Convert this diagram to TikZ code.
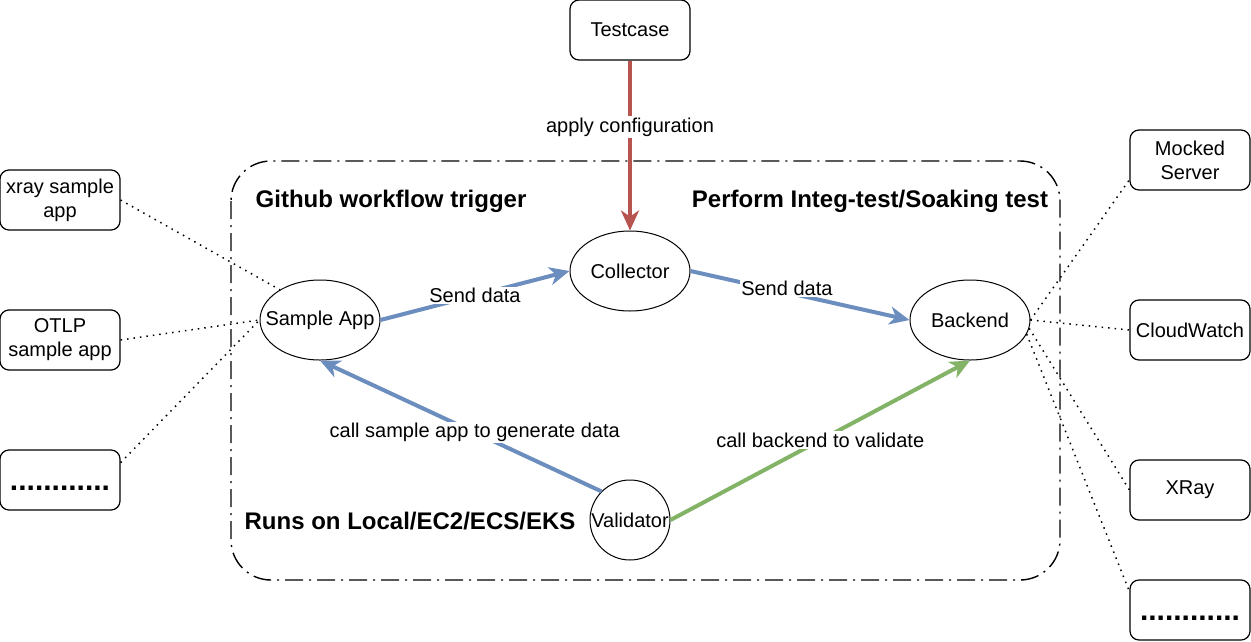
\documentclass[tikz,border=0pt]{standalone}
\usepackage{fontspec}
\setmainfont{Liberation Sans}
\usetikzlibrary{arrows.meta, shapes.geometric}
\definecolor{tcblue}{HTML}{6C8EBF}
\definecolor{tcred}{HTML}{B85450}
\definecolor{tcgreen}{HTML}{82B366}

\begin{document}
\begin{tikzpicture}[x=1pt, y=-1pt,
      every node/.style={font=\fontsize{20}{24}\selectfont, align=center},
      box/.style={rectangle, rounded corners=9pt, draw, line width=1.2pt, minimum width=120pt, minimum height=60pt, inner sep=2pt},
      more/.style={box, font=\fontsize{30}{30}\selectfont\bfseries, text height=20pt, text depth=0pt},
      svc/.style={ellipse, draw, line width=1pt, minimum width=120pt, minimum height=80pt, inner sep=0pt},
      title/.style={font=\fontsize{24}{28}\selectfont\bfseries},
      lbl/.style={fill=white, inner sep=1.5pt},
      arr/.style={-{Stealth[length=20pt, width=18pt, inset=6pt]}, line width=4pt},
      link/.style={line width=1.5pt, dash pattern=on 1.5pt off 5pt}
    ]
    \useasboundingbox (0,0) rectangle (1251,641);

    % test environment
    \draw[line width=1.4pt, dash pattern=on 18pt off 6pt on 2pt off 6pt, rounded corners=40pt]
      (231,161) rectangle (1060,580);
    \node[title] (gh)   at (391,201) {Github workflow trigger};
    \node[title] (perf) at (870,201) {Perform Integ-test/Soaking test};
    \node[title] (runs) at (410,521) {Runs on Local/EC2/ECS/EKS};

    \node[box] (tc) at (630,30) {Testcase};
    \node[svc, label=center:Collector]    (col) at (630,271) {};
    \node[svc, label=center:{Sample App}] (sa)  at (320,320) {};
    \node[svc, label=center:Backend]      (be)  at (970,320) {};
    \node[circle, draw, line width=1pt, minimum size=80pt, inner sep=0pt,
      label=center:Validator] (va) at (630,520) {};

    % sample apps
    \node[box]  (xrapp)   at (60,200) {xray sample\\app};
    \node[box]  (otlpapp) at (60,340) {OTLP\\sample app};
    \node[more] (moreL)   at (60,480) {............};

    % backends
    \node[box]  (mock)  at (1190,160) {Mocked\\Server};
    \node[box]  (cw)    at (1190,330) {CloudWatch};
    \node[box]  (xray)  at (1190,490) {XRay};
    \node[more] (moreR) at (1190,610) {............};

    \draw[link] (xrapp.east) -- (sa.143);
    \draw[link] (otlpapp.east) -- (sa.west);
    \draw[link] (moreL.16) -- (sa.west);
    \draw[link] (be.east) -- (mock.198);
    \draw[link] (be.east) -- (cw.west);
    \draw[link] (be.-8) -- (xray.west);
    \draw[link] (be.-14) -- (moreR.163);

    \draw[arr, tcred] (tc) -- node[lbl, pos=0.39, text=black] {apply configuration} (col);
    \draw[arr, tcblue] (sa.east) -- node[lbl, text=black] {Send data} (col.west);
    \draw[arr, tcblue] (col.east) -- node[lbl, pos=0.44, yshift=4pt, text=black] {Send data} (be.west);
    \draw[arr, tcblue] (va.135) -- node[lbl, pos=0.45, text=black] {call sample app to generate data} (sa.south);
    \draw[arr, tcgreen] (va.east) -- node[lbl, text=black] {call backend to validate} (be.south);
  \end{tikzpicture}
\end{document}
